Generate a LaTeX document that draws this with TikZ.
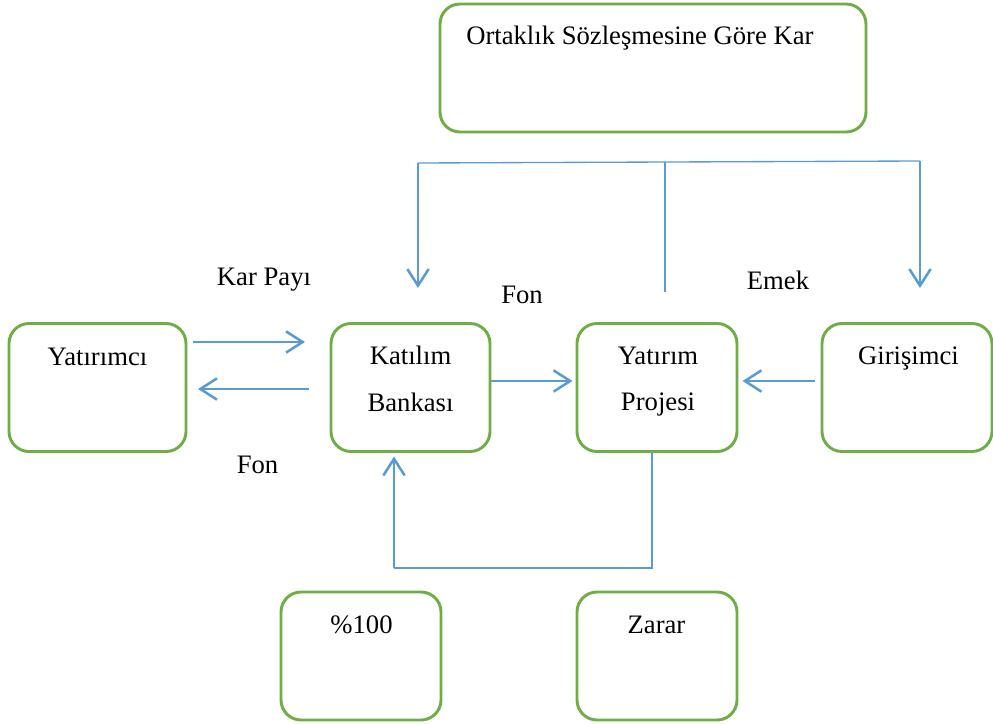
\documentclass[tikz,border=0pt]{standalone}
\usepackage{fontspec}
\setmainfont{Liberation Serif}
\usetikzlibrary{arrows.meta,calc}
\definecolor{boxgreen}{HTML}{70AD47}
\definecolor{linkblue}{HTML}{5B9BD5}
\begin{document}
\begin{tikzpicture}[x=0.75pt,y=-0.75pt,
  box/.style={draw=boxgreen,line width=2.2pt,rounded corners=15pt,minimum height=96pt,inner sep=0pt,fill=white},
  lbl/.style={anchor=base,inner sep=0pt,font=\fontsize{20pt}{24pt}\selectfont},
  arr/.style={draw=linkblue,line width=1.9pt,-{Straight Barb[length=12.5pt,width=16pt,line width=1.9pt]}},
  thinlink/.style={draw=linkblue,line width=1pt}]
\useasboundingbox (0,0) rectangle (993,724);
% boxes
\node[box,minimum width=319.5pt] (top) at (653,68) {};
\node[box,minimum width=132.75pt] (yci) at (97.5,387.5) {};
\node[box,minimum width=119.25pt] (kat) at (410.5,387.5) {};
\node[box,minimum width=120pt] (yat) at (657,387.5) {};
\node[box,minimum width=127.5pt] (gir) at (907,387.5) {};
\node[box,minimum width=120pt] (yuz) at (361,656) {};
\node[box,minimum width=120pt] (zar) at (657,656) {};
% box texts
\node[lbl,anchor=base west] (topT) at (466,45) {Ortaklık Sözleşmesine Göre Kar};
\node[lbl] (yciT) at (97.5,365) {Yatırımcı};
\node[lbl] (katT1) at (410.5,364) {Katılım};
\node[lbl] (katT2) at (410.5,411) {Bankası};
\node[lbl] (yatT1) at (658,364) {Yatırım};
\node[lbl] (yatT2) at (658,410) {Projesi};
\node[lbl] (girT) at (908.5,364) {Girişimci};
\node[lbl] (yuzT) at (361.5,633) {\%100};
\node[lbl] (zarT) at (656.5,633) {Zarar};
% free labels
\node[lbl] (karpayi) at (264,285) {Kar Payı};
\node[lbl] (fonUp) at (522,303) {Fon};
\node[lbl] (emek) at (778,289) {Emek};
\node[lbl] (fonLow) at (257.5,473) {Fon};
% junction coordinates
\coordinate (jl) at (418,163);
\coordinate (jm) at (665,162);
\coordinate (jr) at (920,161);
\coordinate (mb) at (665,292);
\coordinate (tl) at (418,288);
\coordinate (tr) at (920,288);
\coordinate (a1s) at (193,342);
\coordinate (a1e) at (305,342);
\coordinate (a2s) at (309,389);
\coordinate (a2e) at (198,389);
\coordinate (lr) at (652,568);
\coordinate (ll) at (394,568);
% top distribution
\draw[thinlink] (jl) -- (jr);
\draw[thinlink] (jm) -- (mb);
\draw[arr] (jl) -- (tl);
\draw[arr] (jr) -- (tr);
% investor <-> bank
\draw[arr] (a1s) -- (a1e);
\draw[arr] (a2s) -- (a2e);
% bank -> project, entrepreneur -> project
\draw[arr] ($(kat.east)+(0,-6.5)$) -- ($(yat.west)+(-3,-6.5)$);
\draw[arr] ($(gir.west)+(-6,-6.5)$) -- ($(yat.east)+(4,-6.5)$);
% loss loop
\draw[thinlink] (yat.south -| lr) -- (lr) -- (ll);
\draw[arr] (ll) -- ($(kat.south -| ll)+(0,3.5)$);
\end{tikzpicture}
\end{document}
